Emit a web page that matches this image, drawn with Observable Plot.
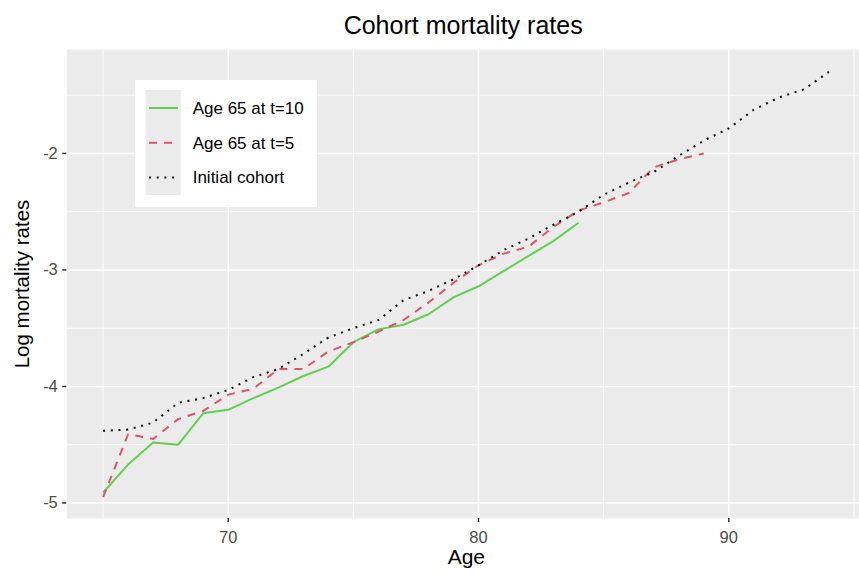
<!DOCTYPE html>
<html>
<head>
<meta charset="utf-8">
<script src="https://cdn.jsdelivr.net/npm/d3@7"></script>
<script src="https://cdn.jsdelivr.net/npm/@observablehq/plot@0.6"></script>
<style>
  html, body { margin: 0; padding: 0; background: white; overflow: hidden; }
  #wrap { position: relative; width: 859px; height: 574px; font-family: "Liberation Sans", Arial, sans-serif; }
  #legend { position: absolute; left: 135px; top: 80px; }
</style>
</head>
<body>
<div id="wrap"></div>
<script>
// ---- data ----
const agesT10 = [65,66,67,68,69,70,71,72,73,74,75,76,77,78,79,80,81,82,83,84];
const valsT10 = [-4.91,-4.67,-4.48,-4.50,-4.23,-4.20,-4.10,-4.01,-3.91,-3.83,-3.62,-3.51,-3.47,-3.38,-3.235,-3.14,-3.01,-2.88,-2.75,-2.595];

const agesT5 = [65,66,67,68,69,70,71,72,73,74,75,76,77,78,79,80,81,82,83,84,85,86,87,88,89];
const valsT5 = [-4.95,-4.41,-4.45,-4.28,-4.21,-4.07,-4.02,-3.85,-3.85,-3.70,-3.62,-3.53,-3.43,-3.28,-3.11,-2.96,-2.86,-2.80,-2.63,-2.49,-2.42,-2.34,-2.12,-2.05,-2.00];

const agesInit = [65,66,67,68,69,70,71,72,73,74,75,76,77,78,79,80,81,82,83,84,85,86,87,88,89,90,91,92,93,94];
const valsInit = [-4.38,-4.37,-4.31,-4.14,-4.10,-4.03,-3.92,-3.85,-3.72,-3.58,-3.50,-3.43,-3.26,-3.18,-3.08,-2.96,-2.83,-2.73,-2.61,-2.50,-2.355,-2.25,-2.16,-2.02,-1.89,-1.785,-1.625,-1.52,-1.45,-1.30];

const seriesNames = ["Age 65 at t=10", "Age 65 at t=5", "Initial cohort"];
const seriesColors = ["#61D04F", "#DF536B", "#000000"];
const seriesDash = [null, "8,7", "2,5.7"];

const xMajor = [70, 80, 90];
const xMinor = [65, 75, 85, 95];
const yMajor = [-5, -4, -3, -2];
const yMinor = [-4.5, -3.5, -2.5, -1.5];

const titleText = "Cohort mortality rates";
const xTitle = "Age";
const yTitle = "Log mortality rates";

// ---- build tables ----
const toRows = (ages, vals, name) => ages.map((a, i) => ({age: a, value: vals[i], series: name}));
const rowsList = [
  toRows(agesT10, valsT10, seriesNames[0]),
  toRows(agesT5, valsT5, seriesNames[1]),
  toRows(agesInit, valsInit, seriesNames[2])
];

const font = "'Liberation Sans', Arial, sans-serif";

const chart = Plot.plot({
  width: 859,
  height: 574,
  marginLeft: 66.3,
  marginRight: 0,
  marginTop: 49,
  marginBottom: 56,
  style: {fontFamily: font, fontSize: "16.5px", background: "white", overflow: "visible"},
  x: {domain: [63.55, 95.45], range: [66.3, 864.7]},
  y: {domain: [-5.133, -1.108]},
  marks: [
    Plot.frame({fill: "#EBEBEB", stroke: null}),
    Plot.gridX(xMinor, {stroke: "white", strokeOpacity: 1, strokeWidth: 0.8}),
    Plot.gridY(yMinor, {stroke: "white", strokeOpacity: 1, strokeWidth: 0.8}),
    Plot.gridX(xMajor, {stroke: "white", strokeOpacity: 1, strokeWidth: 1.6}),
    Plot.gridY(yMajor, {stroke: "white", strokeOpacity: 1, strokeWidth: 1.6}),
    Plot.axisX(xMajor, {anchor: "bottom", tickSize: 4, tickPadding: 9, fontSize: 16.5, stroke: "#333333", strokeWidth: 1.5, fill: "#4D4D4D", label: null, tickFormat: d => String(d)}),
    Plot.axisY(yMajor, {anchor: "left", tickSize: 4, tickPadding: 5, fontSize: 16.5, stroke: "#333333", strokeWidth: 1.5, fill: "#4D4D4D", label: null, tickFormat: d => String(d)}),
    ...rowsList.map((rows, i) => Plot.line(rows, {
      x: "age", y: "value",
      stroke: seriesColors[i],
      strokeWidth: 2,
      strokeDasharray: seriesDash[i],
      strokeLinecap: "butt",
      strokeLinejoin: "round"
    })),
    Plot.text([titleText], {frameAnchor: "top", textAnchor: "middle", lineAnchor: "middle", dy: -23.7, fontSize: 25, fill: "black"}),
    Plot.text([xTitle], {frameAnchor: "bottom", textAnchor: "middle", lineAnchor: "middle", dx: 3.2, dy: 38.3, fontSize: 21, fill: "black"}),
    Plot.text([yTitle], {frameAnchor: "left", textAnchor: "middle", lineAnchor: "middle", dx: -44, rotate: -90, fontSize: 20.5, fill: "black"})
  ]
});

const wrap = document.getElementById("wrap");
wrap.appendChild(chart);

// ---- legend ----
const legend = document.createElement("div");
legend.id = "legend";
const W = 182, H = 127;
let svg = `<svg width="${W}" height="${H}" xmlns="http://www.w3.org/2000/svg" style="display:block">`;
svg += `<rect x="0" y="0" width="${W}" height="${H}" fill="white"/>`;
svg += `<rect x="10.7" y="10" width="35" height="105" fill="#EBEBEB"/>`;
seriesNames.forEach((name, i) => {
  const cy = 28 + i * 34.7;
  const dash = seriesDash[i] ? `stroke-dasharray="${seriesDash[i]}"` : "";
  svg += `<line x1="14" x2="43" y1="${cy}" y2="${cy}" stroke="${seriesColors[i]}" stroke-width="2" ${dash}/>`;
  svg += `<text x="57.7" y="${cy + 6}" font-family="${font.replace(/'/g, "")}" font-size="17" fill="black">${name}</text>`;
});
svg += `</svg>`;
legend.innerHTML = svg;
wrap.appendChild(legend);
</script>
</body>
</html>
